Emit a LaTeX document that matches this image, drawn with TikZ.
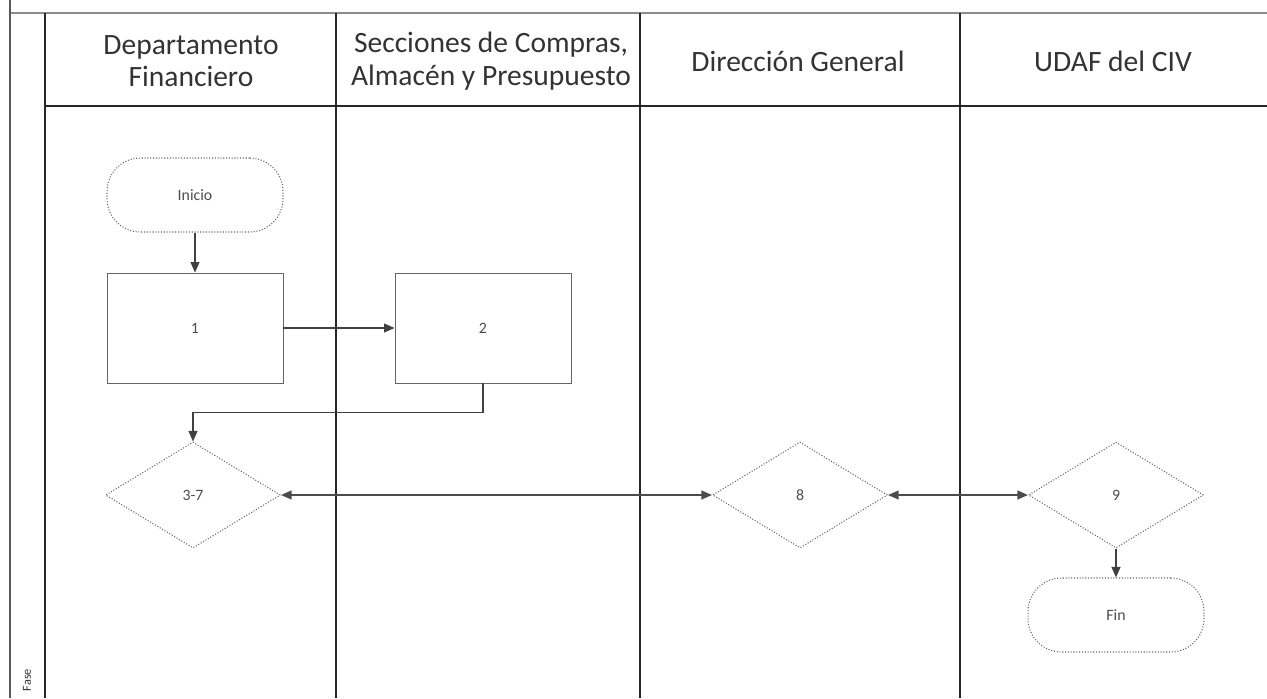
\documentclass[tikz,border=0pt]{standalone}
\usepackage{fontspec}
\setmainfont{Carlito}
\usetikzlibrary{shapes.geometric,arrows.meta}

\begin{document}
\begin{tikzpicture}[x=0.02cm, y=-0.02cm,
    lane/.style={line width=1pt, black!85},
    rule/.style={line width=0.6pt, black!45},
    head/.style={font=\fontsize{16.8}{18.5}\selectfont, align=center, text=black!80},
    proc/.style={draw=black!60, line width=0.5pt, minimum width=3.52cm, minimum height=2.2cm, font=\small, text=black!70},
    term/.style={draw=black!60, densely dotted, line width=0.6pt, rounded corners=19pt, minimum width=3.52cm, minimum height=1.48cm, font=\small, text=black!70},
    decision/.style={draw=black!60, densely dotted, line width=0.6pt, diamond, aspect=1.66, minimum width=3.5cm, minimum height=2.12cm, inner sep=0pt, font=\small, text=black!70},
    flow/.style={-{Triangle[length=6pt,width=5pt]}, line width=0.9pt, black!75},
    both/.style={{Triangle[length=6pt,width=5pt]}-{Triangle[length=6pt,width=5pt]}, line width=0.9pt, black!70}]
    \useasboundingbox (0,0) rectangle (1267,698);
    % lanes
    \draw[rule] (10,13) -- (1267,13);
    \draw[lane, black!65] (10,0) -- (10,698);
    \foreach \x in {45,336,640,960} {
        \draw[lane] (\x,13) -- (\x,698);
    }
    \draw[lane] (45,106) -- (1267,106);
    \node[head] (hdep) at (191,61) {Departamento\\Financiero};
    \node[head] (hsec) at (491,61) {Secciones de Compras,\\Almacén y Presupuesto};
    \node[head] (hdir) at (798,61) {Dirección General};
    \node[head] (hudaf) at (1113,61) {UDAF del CIV};
    \node[rotate=90, font=\scriptsize, text=black!80] (fase) at (27,680) {Fase};
    % steps
    \node[term] (inicio) at (195,195) {Inicio};
    \node[proc] (p1) at (195,328) {1};
    \node[proc] (p2) at (483,328) {2};
    \node[decision] (d37) at (193,495) {3-7};
    \node[decision] (d8) at (800,495) {8};
    \node[decision] (d9) at (1116,495) {9};
    \node[term] (fin) at (1116,615) {Fin};
    % connectors
    \draw[flow] (inicio) -- (p1);
    \draw[flow] (p1) -- (p2);
    \draw[flow] (p2.south) -- ++(0,29) -| (d37.north);
    \draw[both] (d37) -- (d8);
    \draw[both] (d8) -- (d9);
    \draw[flow] (d9) -- (fin);
\end{tikzpicture}
\end{document}
